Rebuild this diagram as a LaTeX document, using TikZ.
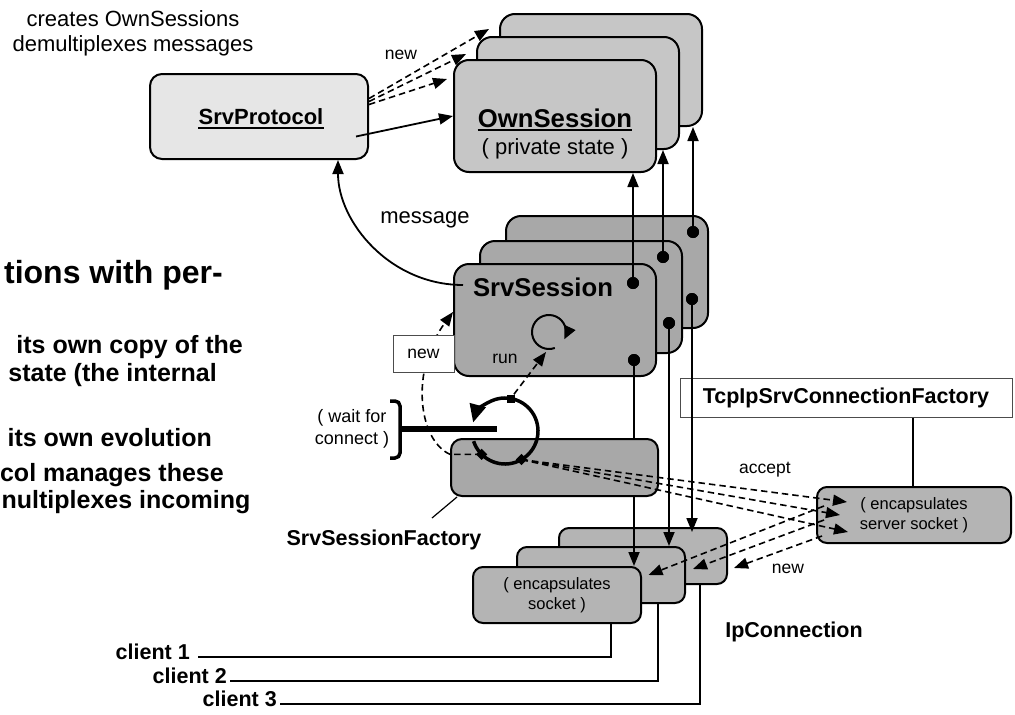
\documentclass[tikz,border=0pt]{standalone}
\usepackage{fontspec}
\setmainfont{Liberation Sans}
\usetikzlibrary{arrows.meta,calc}

\definecolor{protofill}{HTML}{E6E6E6}
\definecolor{ownfill}{HTML}{C6C6C6}
\definecolor{sessfill}{HTML}{A8A8A8}
\definecolor{connfill}{HTML}{B4B4B4}

\newcommand{\fsz}[2]{\fontsize{#1pt}{#2pt}\selectfont}

\tikzset{
  rbox/.style={draw, line width=2pt, inner sep=0pt},
  ownbox/.style={rbox, fill=ownfill, rounded corners=15pt, minimum width=202pt, minimum height=112pt},
  sessbox/.style={rbox, fill=sessfill, rounded corners=15pt, minimum width=202pt, minimum height=112pt},
  connbox/.style={rbox, fill=connfill, rounded corners=10pt, minimum width=168pt, minimum height=56pt},
  tagbox/.style={draw=black!70, line width=1pt, fill=white, inner sep=0pt},
  pin/.style={circle, fill=black, inner sep=0pt, minimum size=12pt},
  wire/.style={line width=1.8pt},
  arr/.style={wire, -{Triangle[length=14pt,width=11pt]}},
  dline/.style={line width=1.6pt, dash pattern=on 6.5pt off 4pt},
  darr/.style={dline, -{Triangle[length=14pt,width=11pt]}},
  txt/.style={inner sep=0pt, font=\fsz{22}{25}},
  small/.style={inner sep=0pt, font=\fsz{17.5}{21}},
  tiny/.style={inner sep=0pt, font=\fsz{16.5}{20}, align=center},
  bold/.style={inner sep=0pt, font=\fsz{21.5}{25}\bfseries},
  body/.style={inner sep=0pt, anchor=east, font=\fsz{25}{29}\bfseries},
  blip/.style={fill=black, inner sep=0pt, minimum size=8pt},
}

\begin{document}
\begin{tikzpicture}[x=1pt,y=-1pt]
\useasboundingbox (0,0) rectangle (1015,715);
\fill[white] (0,0) rectangle (1015,715);

% ---- slide text on the left
\node[inner sep=0pt, anchor=east, font=\fsz{32}{36}\bfseries] (t0) at (223,275) {tions with per-};
\node[body] (t1) at (243,347) {its own copy of the};
\node[body] (t2) at (217,375) {state (the internal};
\node[body] (t3) at (212,438) {its own evolution};
\node[body] (t4) at (224,475) {col manages these};
\node[body] (t5) at (250.5,502) {nultiplexes incoming};

% ---- caption
\node[txt, align=center] (cap) at (133,33) {creates OwnSessions\\demultiplexes messages};

% ---- OwnSession stack
\node[ownbox] (os3) at (601,70) {};
\node[ownbox] (os2) at (578,93) {};
\node[ownbox] (os1) at (555,116) {};
\node[inner sep=0pt, font=\fsz{25.7}{30}\bfseries] (osname) at (555,118) {OwnSession};
\draw[line width=1.8pt] ([yshift=-3pt]osname.base west) -- ([yshift=-3pt]osname.base east);
\node[txt] (osstate) at (555,149) {( private state )};

% ---- SrvProtocol
\node[rbox, fill=protofill, rounded corners=12pt, minimum width=218pt, minimum height=85pt] (pr) at (259,116.5) {};
\node[inner sep=0pt, font=\fsz{22}{26}\bfseries] (prname) at (261,117) {SrvProtocol};
\draw[line width=1.6pt] ([yshift=-3pt]prname.base west) -- ([yshift=-3pt]prname.base east);

% ---- SrvSession stack
\node[sessbox] (ss3) at (607,272) {};
\node[sessbox] (ss2) at (581,297) {};
\node[sessbox] (ss1) at (555,320) {};
\node[inner sep=0pt, font=\fsz{25.7}{30}\bfseries] (ssname) at (543,287) {SrvSession};
\node[small] (runlbl) at (505,359) {run};

% ---- connection factory and server socket
\node[tagbox, minimum width=332pt, minimum height=39pt, font=\fsz{21.5}{25}\bfseries] (tcp) at (846,397.5) {TcpIpSrvConnectionFactory};
\node[connbox, tiny, minimum width=194pt] (srv) at (914,515) {( encapsulates\\server socket )};
\draw[line width=1.5pt] ([xshift=67pt]tcp.south) -- ([xshift=-1pt]srv.north);

% ---- IpConnection stack
\node[connbox] (ip3) at (643,556) {};
\node[connbox] (ip2) at (601,575) {};
\node[connbox, tiny] (ip1) at (557,595) {( encapsulates\\socket )};

% ---- labels
\node[bold] (ipl) at (794,632) {IpConnection};
\node[bold] (facl) at (384,540) {SrvSessionFactory};
\node[small] (accl) at (765,470) {accept};
\node[small] (newsrv) at (788,569) {new};
\node[small] (newtop) at (401,55) {new};
\node[txt] (msg) at (425,220) {message};

% ---- pins on the sessions
\node[pin] (p1t) at (633,283) {};
\node[pin] (p1b) at (634,360) {};
\node[pin] (p2t) at (663,257) {};
\node[pin] (p2b) at (669,323) {};
\node[pin] (p3t) at (693,232) {};
\node[pin] (p3b) at (692,299) {};

% ---- session to OwnSession and to IpConnection
\draw[arr] (p1t.center) -- (p1t |- os1.south);
\draw[arr] (p2t.center) -- (p2t |- os2.south);
\draw[arr] (p3t.center) -- (p3t |- os3.south);
\draw[arr] (p1b.center) -- (p1b |- ip1.north);
\draw[arr] (p2b.center) -- (p2b |- ip2.north);
\draw[arr] (p3b.center) -- ([yshift=-5pt]p3b |- ip3.north);
\node[pin] at (p1t) {};
\node[pin] at (p1b) {};
\node[pin] at (p2t) {};
\node[pin] at (p2b) {};
\node[pin] at (p3t) {};
\node[pin] at (p3b) {};

% ---- SrvSessionFactory
\node[rbox, fill=sessfill, rounded corners=11pt, minimum width=207pt, minimum height=57pt] (fac) at (554.5,467.5) {};
\coordinate (facpt) at (432,518);
\draw[line width=1.2pt] (facpt) -- ([xshift=7pt]fac.south west);

% ---- wait loop
\coordinate (wc) at (505,431);
\coordinate (barL) at (400,429);
\coordinate (barR) at (497,429);
\coordinate (brt) at (390,401);
\coordinate (brb) at (390,458);
\draw[line width=3.5pt, rounded corners=5pt] (brt) -- (400,401) -- (400,458) -- (brb);
\draw[line width=6pt] (barL) -- (barR);
\node[inner sep=0pt, align=center, font=\fsz{18}{22}] (waitl) at (352,429) {( wait for\\connect )};
\draw[line width=3.5pt, -{Triangle[length=18pt,width=16pt]}] (wc) ++(162:33) arc (162:-165:33);
\node[blip] (wsq) at ([shift={(-80:33)}]wc) {};
\node[blip, rotate=45] (wd1) at ([shift={(135:33)}]wc) {};
\node[blip, rotate=45] (wd2) at ([shift={(60:33)}]wc) {};

% ---- run loop
\coordinate (rc) at (549,332);
\coordinate (runin) at (546,352);
\draw[line width=2pt, -{Triangle[length=13pt,width=12pt]}] (rc) ++(70:17) arc (70:385:17);
\draw[darr] (wsq) -- (runin);

% ---- new session path
\coordinate (ssin) at ([yshift=8pt]ss1.west);
\draw[darr] (wd1.center) -- (wd1.center -| fac.west) .. controls (418,440) and (410,370) .. (ssin);
\node[tagbox, minimum width=61pt, minimum height=37pt, font=\fsz{17.5}{21}] (newbox) at (423.5,353.5) {new};

% ---- accept
\coordinate (a1) at (847,502);
\coordinate (a2) at (840,515);
\coordinate (a3) at (848,532);
\draw[darr] (wd2.center) -- (a1);
\draw[darr] (wd2.center) -- (a2);
\draw[darr] (wd2.center) -- (a3);

% ---- server socket creates connections
\coordinate (s1) at (824,506);
\coordinate (s2) at (824,520);
\coordinate (s3) at (822,536);
\coordinate (n1) at ([xshift=6.5pt,yshift=20pt]ip1.east);
\coordinate (n2) at ([xshift=7pt,yshift=6pt]ip2.east);
\coordinate (n3) at ([xshift=6pt,yshift=-12pt]ip3.east);
\draw[darr] (s1) -- (n1);
\draw[darr] (s2) -- (n2);
\draw[darr] (s3) -- (n3);

% ---- protocol links
\draw[arr] ([xshift=-13pt,yshift=-20pt]pr.east) -- (os1.west);
\draw[darr] ([yshift=18pt]pr.east) -- ([xshift=-10pt,yshift=-16pt]os3.north west);
\draw[darr] ([yshift=15pt]pr.east) -- ([xshift=-10pt,yshift=-18pt]os2.north west);
\draw[darr] ([yshift=12pt]pr.east) -- ([xshift=-6pt,yshift=-20pt]os1.north west);
\coordinate (msgs) at (463,285);
\draw[arr] (msgs) .. controls (390,285) and (338,222) .. ([xshift=79pt]pr.south);

% ---- clients
\node[bold, anchor=base east] (cl1) at (190,659) {client 1};
\node[bold, anchor=base east] (cl2) at (227,683) {client 2};
\node[bold, anchor=base east] (cl3) at (277,706) {client 3};
\coordinate (w1) at (198,657);
\coordinate (w2) at (230,681);
\coordinate (w3) at (280,704);
\draw[wire] (w1) -| ([xshift=54pt]ip1.south);
\draw[wire] (w2) -| ([xshift=57pt]ip2.south);
\draw[wire] (w3) -| ([xshift=57pt]ip3.south);
\end{tikzpicture}
\end{document}
